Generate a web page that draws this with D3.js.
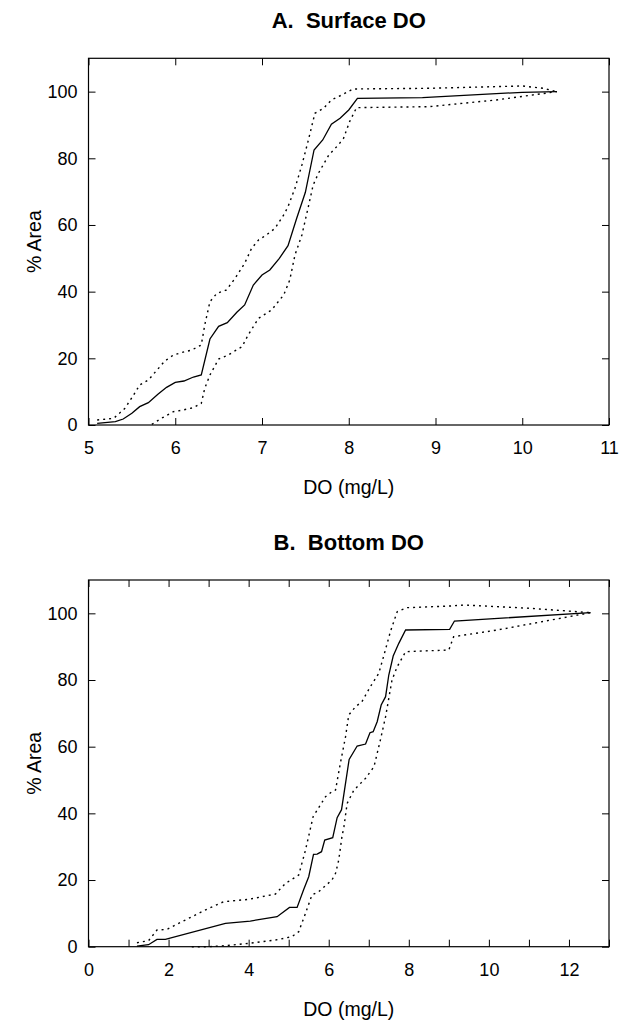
<!DOCTYPE html>
<html>
<head>
<meta charset="utf-8">
<script src="https://cdn.jsdelivr.net/npm/d3@7"></script>
<style>
  html, body { margin: 0; padding: 0; background: #fff; }
  svg { display: block; font-family: "Liberation Sans", Arial, sans-serif; }
  .title { white-space: pre; }
</style>
</head>
<body>
<svg id="chart" width="619" height="1021"></svg>
<script>
// ---------- Panel A: Surface DO ----------
const aTitle = "A.  Surface DO";
const aXTicks = [5, 6, 7, 8, 9, 10, 11];
const aMeanX = [5.10,5.31,5.40,5.50,5.59,5.69,5.80,5.90,6.00,6.10,6.21,6.30,6.40,6.50,6.60,6.71,6.80,6.90,7.00,7.09,7.20,7.30,7.40,7.50,7.60,7.70,7.80,7.90,8.00,8.10,8.85,10.00,10.40];
const aMeanY = [0.5,1.0,1.8,3.5,5.5,6.7,9.2,11.3,12.8,13.2,14.4,15.0,25.8,29.6,30.7,33.8,36.0,42.0,45.0,46.5,50.0,53.8,62.0,69.8,82.5,85.5,90.2,92.0,94.5,98.0,98.2,99.8,100];
const aUpX = [5.10,5.29,5.42,5.52,5.59,5.69,5.79,5.88,5.98,6.07,6.19,6.30,6.34,6.40,6.48,6.59,6.69,6.80,6.88,6.96,7.05,7.15,7.25,7.30,7.38,7.46,7.53,7.61,7.71,7.80,7.92,8.05,8.93,9.70,10.00,10.24,10.40];
const aUpY = [1.5,2.0,5,9,12,13.5,16.5,19.2,21,21.7,22.5,24,30,37,39.5,40.5,44,48.5,53,55.5,57,59,63,65.5,71,78,85,93.5,95,97.5,99,100.8,101,101.5,101.7,101,100];
const aLoX = [5.73,5.84,5.98,6.09,6.21,6.30,6.34,6.40,6.50,6.61,6.77,6.84,6.96,7.11,7.25,7.32,7.38,7.46,7.53,7.59,7.65,7.77,7.88,7.94,8.01,8.09,8.93,9.70,10.40];
const aLoY = [0.2,2,4,4.5,5.2,6.5,11,15,19.8,21,23.5,27,32,34.5,39,43.5,51,57,65,72,75.5,81,84,86,91,95.2,95.5,97.5,100];

// ---------- Panel B: Bottom DO ----------
const bTitle = "B.  Bottom DO";
const bXTicks = [0,1,2,3,4,5,6,7,8,9,10,11,12,13];
const bMeanX = [1.21,1.50,1.71,1.92,3.42,4.04,4.71,5.02,5.21,5.37,5.50,5.62,5.71,5.82,5.90,6.10,6.21,6.32,6.51,6.71,6.92,7.03,7.11,7.21,7.31,7.42,7.50,7.61,7.75,7.92,9.02,9.14,12.54];
const bMeanY = [0.2,0.6,2.2,2.2,7,7.7,9,11.8,11.8,17,21,27.7,27.8,28.5,32,32.7,38.7,41.1,56.2,60.2,60.8,64.2,64.5,67.5,72.5,75,81.5,87.2,91,95,95.2,97.7,100.2];
const bUpX = [1.21,1.50,1.71,1.96,2.50,3.00,3.38,4.00,4.67,4.92,5.25,5.42,5.61,5.92,6.08,6.17,6.29,6.42,6.50,6.67,6.83,7.04,7.25,7.38,7.54,7.71,7.96,9.04,9.38,11.04,12.54];
const bUpY = [1.2,1.8,5,5.2,8.5,11.5,13.5,14.2,15.8,19,21.5,29,39,45,46.5,47,55,63,69.5,72,73.5,78,82,87.5,94.5,100.5,101.7,102.2,102.5,101.5,100.2];
const bLoX = [2.58,3.00,3.42,4.00,4.67,5.08,5.25,5.42,5.58,5.75,6.08,6.17,6.25,6.33,6.38,6.46,6.63,6.92,7.13,7.29,7.42,7.58,7.71,7.92,9.00,9.12,10.21,12.54];
const bLoY = [0,0,0.3,1,2,3,4.5,10,15.5,16.5,20,22,26,33,36,43,47,50.5,54,62,69,80,84,88.5,89,93,95,100.2];

const yTicks = [0, 20, 40, 60, 80, 100];
const xLabel = "DO (mg/L)";
const yLabel = "% Area";

const svg = d3.select("#chart");

function zip(xs, ys) { return xs.map((x, i) => [x, ys[i]]); }

function panel(opts) {
  const left = 88.5, width = 520.5, height = 366.7;
  const top = opts.top;
  const g = svg.append("g").attr("transform", `translate(${left},${top})`);
  const x = d3.scaleLinear().domain(opts.xDomain).range([0, width]);
  const y = d3.scaleLinear().domain([0, 110]).range([height, 0]);

  // title
  svg.append("text")
    .attr("class", "title")
    .attr("x", left + width / 2).attr("y", top - 30)
    .attr("text-anchor", "middle")
    .style("font-size", "22px").style("font-weight", "bold")
    .attr("fill", "#000")
    .text(opts.title);

  const tickLen = 7;
  const xb = g.append("g").attr("transform", `translate(0,${height})`)
    .call(d3.axisBottom(x).tickValues(opts.xTicks).tickSize(-tickLen).tickPadding(16.5)
      .tickFormat(opts.xFormat));
  const xt = g.append("g")
    .call(d3.axisTop(x).tickValues(opts.xTicks).tickSize(-tickLen).tickFormat(""));
  const yl = g.append("g")
    .call(d3.axisLeft(y).tickValues(yTicks).tickSize(-tickLen).tickPadding(11));
  const yr = g.append("g").attr("transform", `translate(${width},0)`)
    .call(d3.axisRight(y).tickValues(yTicks).tickSize(-tickLen).tickFormat(""));
  [xb, xt, yl, yr].forEach(a => {
    a.select(".domain").remove();
    a.selectAll("line").attr("stroke", "#000").attr("stroke-width", 1);
    a.selectAll("text").style("font-size", "18px").style("font-family", "'Liberation Sans', Arial, sans-serif").attr("fill", "#000");
  });

  // frame
  g.append("rect").attr("x", 0).attr("y", 0).attr("width", width).attr("height", height)
    .attr("fill", "none").attr("stroke", "#000").attr("stroke-width", 1.2);

  const line = d3.line().x(d => x(d[0])).y(d => y(d[1]));
  g.append("path").datum(zip(opts.upX, opts.upY)).attr("d", line)
    .attr("fill", "none").attr("stroke", "#000").attr("stroke-width", 1.4).attr("stroke-dasharray", "2,4");
  g.append("path").datum(zip(opts.loX, opts.loY)).attr("d", line)
    .attr("fill", "none").attr("stroke", "#000").attr("stroke-width", 1.4).attr("stroke-dasharray", "2,4");
  g.append("path").datum(zip(opts.meanX, opts.meanY)).attr("d", line)
    .attr("fill", "none").attr("stroke", "#000").attr("stroke-width", 1.3);

  // axis labels
  svg.append("text")
    .attr("x", left + width / 2).attr("y", top + height + 69)
    .attr("text-anchor", "middle").style("font-size", "19.5px").attr("fill", "#000")
    .text(xLabel);
  svg.append("text")
    .attr("transform", `translate(41,${top + height / 2}) rotate(-90)`)
    .attr("text-anchor", "middle").style("font-size", "19.5px").attr("fill", "#000")
    .text(yLabel);
}

panel({ top: 58.3, title: aTitle, xDomain: [5, 11], xTicks: aXTicks, xFormat: d3.format("d"),
  meanX: aMeanX, meanY: aMeanY, upX: aUpX, upY: aUpY, loX: aLoX, loY: aLoY });
panel({ top: 580, title: bTitle, xDomain: [0, 13], xTicks: bXTicks,
  xFormat: d => (d % 2 === 0 && d <= 12 ? String(d) : ""),
  meanX: bMeanX, meanY: bMeanY, upX: bUpX, upY: bUpY, loX: bLoX, loY: bLoY });
</script>
</body>
</html>
